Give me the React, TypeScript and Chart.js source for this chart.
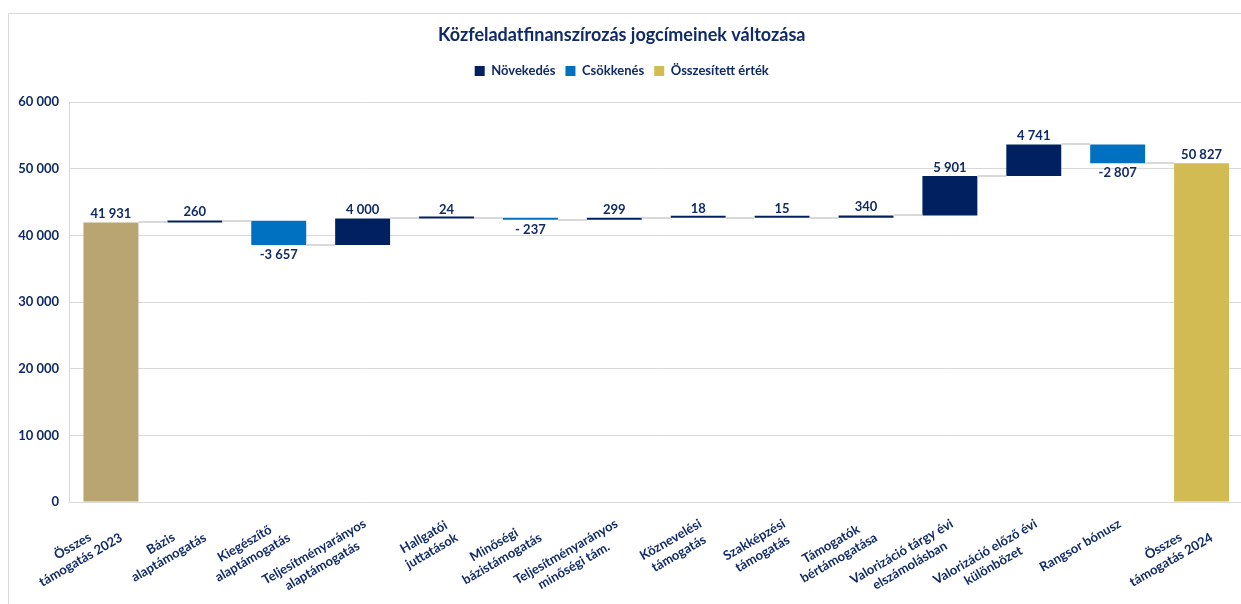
import React, { useEffect, useRef } from "react";
import { Chart, registerables } from "chart.js";

Chart.register(...registerables);

// ---------- data ----------
const categories: string[][] = [
  ["Összes", "támogatás 2023"],
  ["Bázis", "alaptámogatás"],
  ["Kiegészítő", "alaptámogatás"],
  ["Teljesítményarányos", "alaptámogatás"],
  ["Hallgatói", "juttatások"],
  ["Minőségi", "bázistámogatás"],
  ["Teljesítményarányos", "minőségi tám."],
  ["Köznevelési", "támogatás"],
  ["Szakképzési", "támogatás"],
  ["Támogatók", "bértámogatása"],
  ["Valorizáció tárgy évi", "elszámolásban"],
  ["Valorizáció előző évi", "különbözet"],
  ["Rangsor bónusz"],
  ["Összes", "támogatás 2024"],
];
const changes: number[] = [41931, 260, -3657, 4000, 24, -237, 299, 18, 15, 340, 5901, 4741, -2807, 50827];
const isTotal: boolean[] = [true, false, false, false, false, false, false, false, false, false, false, false, false, true];
const valueLabels: string[] = ["41 931", "260", "-3 657", "4 000", "24", "- 237", "299", "18", "15", "340", "5 901", "4 741", "-2 807", "50 827"];
const yTicks: number[] = [0, 10000, 20000, 30000, 40000, 50000, 60000];
const seriesNames: string[] = ["Növekedés", "Csökkenés", "Összesített érték"];
const chartTitle = "Közfeladatfinanszírozás jogcímeinek változása";

// ---------- styles ----------
const NAVY = "#002060";
const TEXT = "#0f2a66";
const BLUE = "#0070C0";
const TAN = "#B8A572";
const GOLD = "#D2BB53";
const GRID = "#d9d9d9";
const FONT = "Lato, 'Open Sans', sans-serif";
const BAR_PCT = 0.655;

// floating ranges built from the values
const ranges: [number, number][] = [];
const levels: number[] = [];
{
  let run = 0;
  changes.forEach((v, i) => {
    if (isTotal[i]) {
      ranges.push([0, v]);
      run = v;
    } else {
      ranges.push([run, run + v]);
      run = run + v;
    }
    levels.push(run);
  });
}
const incData = ranges.map((r, i) => (!isTotal[i] && changes[i] >= 0 ? r : null));
const decData = ranges.map((r, i) => (!isTotal[i] && changes[i] < 0 ? r : null));
const totData = ranges.map((r, i) => (isTotal[i] ? r : null));

const fmt = (n: number) => String(n).replace(/\B(?=(\d{3})+(?!\d))/g, " ");

const extrasPlugin = {
  id: "waterfallExtras",
  beforeInit(chart: any) {
    const legend = chart.legend;
    if (legend) {
      const fit = legend.fit;
      legend.fit = function () {
        fit.call(this);
        this.height += 14.5;
      };
    }
  },
  afterDatasetsDraw(chart: any) {
    const { ctx } = chart;
    const x = chart.scales.x;
    const y = chart.scales.y;
    const step = x.getPixelForValue(1) - x.getPixelForValue(0);
    const half = (step * BAR_PCT) / 2;
    ctx.save();
    // connectors
    ctx.strokeStyle = GRID;
    ctx.lineWidth = 2;
    ctx.beginPath();
    for (let i = 0; i < changes.length - 1; i++) {
      const py = Math.round(y.getPixelForValue(levels[i]));
      ctx.moveTo(x.getPixelForValue(i) + half, py);
      ctx.lineTo(x.getPixelForValue(i + 1) - half, py);
    }
    ctx.stroke();
    // value labels
    ctx.fillStyle = TEXT;
    ctx.font = `bold 13px ${FONT}`;
    ctx.textAlign = "center";
    for (let i = 0; i < changes.length; i++) {
      const [a, b] = ranges[i];
      const px = x.getPixelForValue(i);
      if (!isTotal[i] && changes[i] < 0) {
        ctx.textBaseline = "top";
        ctx.fillText(valueLabels[i], px, y.getPixelForValue(Math.min(a, b)) + 3);
      } else {
        ctx.textBaseline = "bottom";
        ctx.fillText(valueLabels[i], px, y.getPixelForValue(Math.max(a, b)) - 2);
      }
    }
    ctx.restore();
  },
  afterDraw(chart: any) {
    const { ctx } = chart;
    const x = chart.scales.x;
    const y = chart.scales.y;
    const axisY = y.getPixelForValue(0);
    const lineH = 16;
    ctx.save();
    ctx.fillStyle = TEXT;
    ctx.font = `bold 13px ${FONT}`;
    ctx.textAlign = "center";
    ctx.textBaseline = "top";
    categories.forEach((lines, i) => {
      const W = Math.max(...lines.map((l) => ctx.measureText(l).width));
      ctx.save();
      ctx.translate(x.getPixelForValue(i) - 1, axisY + 15);
      ctx.rotate((-30 * Math.PI) / 180);
      lines.forEach((l, j) => ctx.fillText(l, -W / 2, j * lineH));
      ctx.restore();
    });
    ctx.restore();
  },
};

export default function App() {
  const ref = useRef<HTMLCanvasElement | null>(null);

  useEffect(() => {
    document.body.style.overflow = "hidden";
    const canvas = ref.current;
    if (!canvas) return;
    const chart = new Chart(canvas, {
      type: "bar",
      data: {
        labels: categories.map((c) => c.join(" ")),
        datasets: [
          { label: seriesNames[0], data: incData as any, backgroundColor: NAVY, grouped: false, minBarLength: 2 },
          { label: seriesNames[1], data: decData as any, backgroundColor: BLUE, grouped: false, minBarLength: 2 },
          {
            label: seriesNames[2],
            data: totData as any,
            backgroundColor: (c: any) => (c.type === "data" && c.dataIndex === 0 ? TAN : GOLD),
            grouped: false,
          },
        ],
      },
      options: {
        responsive: false,
        animation: false,
        devicePixelRatio: 1,
        categoryPercentage: 1,
        barPercentage: BAR_PCT,
        layout: { padding: { top: 0, left: 0, right: 16.5, bottom: 0 } },
        plugins: {
          title: {
            display: true,
            text: chartTitle,
            color: TEXT,
            font: { family: FONT, size: 18, weight: "bold" },
            padding: { top: 24.2, bottom: 8.7 },
          },
          legend: {
            display: true,
            labels: {
              color: TEXT,
              font: { family: FONT, size: 13, weight: "bold" },
              boxWidth: 10,
              boxHeight: 10,
              padding: 10,
              generateLabels: (chart: any) => {
                const items = Chart.defaults.plugins.legend.labels.generateLabels(chart);
                return items.map((it: any, k: number) => {
                  const c = [NAVY, BLUE, GOLD][k];
                  return { ...it, fillStyle: c, strokeStyle: c, lineWidth: 0 };
                });
              },
            },
          },
          tooltip: { enabled: false },
        },
        scales: {
          x: {
            grid: { display: false },
            border: { display: false },
            ticks: { display: false },
            afterFit: (s: any) => {
              s.height = 102;
            },
          },
          y: {
            min: 0,
            max: 60000,
            afterBuildTicks: (s: any) => {
              s.ticks = yTicks.map((v) => ({ value: v }));
            },
            afterFit: (s: any) => {
              s.width = 69;
            },
            grid: { color: GRID, lineWidth: 1, drawTicks: false },
            border: { display: true, color: GRID, width: 1 },
            ticks: {
              color: TEXT,
              padding: 10,
              font: { family: FONT, size: 13, weight: "bold" },
              callback: (v: any) => fmt(Number(v)),
            },
          },
        },
      },
      plugins: [extrasPlugin],
    });
    return () => chart.destroy();
  }, []);

  return (
    <div style={{ position: "absolute", left: 0, top: 0, width: 1260, height: 604, overflow: "hidden" }}>
      <div
        style={{
          position: "absolute",
          left: 8,
          top: 13,
          width: 1400,
          height: 800,
          border: `1px solid ${GRID}`,
          boxSizing: "border-box",
        }}
      />
      <canvas ref={ref} width={1260} height={604} style={{ position: "absolute", left: 0, top: 0, width: 1260, height: 604 }} />
    </div>
  );
}
